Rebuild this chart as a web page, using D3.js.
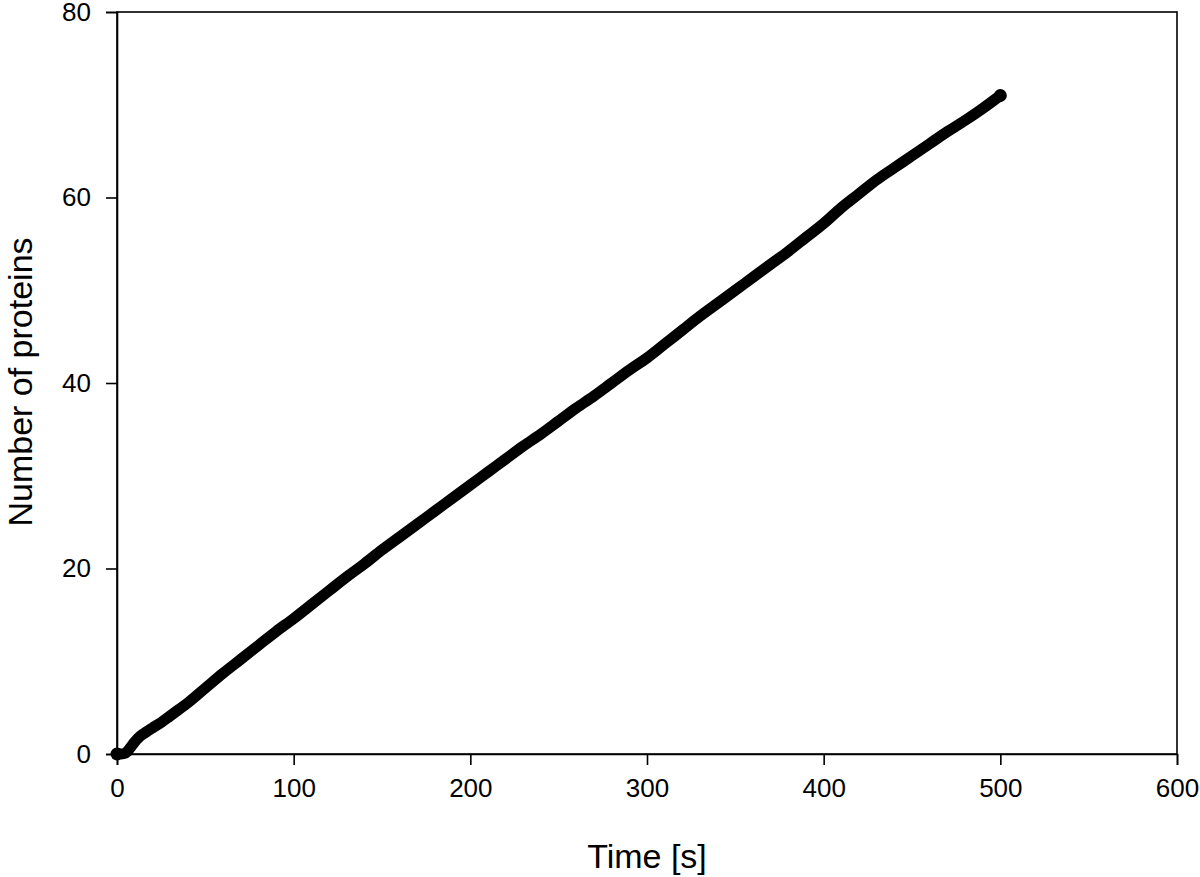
<!DOCTYPE html>
<html>
<head>
<meta charset="utf-8">
<script src="https://cdn.jsdelivr.net/npm/d3@7"></script>
<style>
  html, body { margin: 0; padding: 0; background: #fff; }
  svg { display: block; }
  text { font-family: "Liberation Sans", Arial, sans-serif; fill: #000; }
</style>
</head>
<body>
<svg id="chart" width="1200" height="877"></svg>
<script>
const timeSeconds = [0, 2, 4, 6, 8, 10, 13, 16, 20, 25, 30, 35, 40, 50, 60, 70, 80, 90,
  100, 110, 120, 130, 140, 150, 160, 170, 180, 190, 200, 210, 220, 230, 240, 250,
  260, 270, 280, 290, 300, 310, 320, 330, 340, 350, 360, 370, 380, 390, 400, 410,
  420, 430, 440, 450, 460, 470, 480, 490, 500];
const proteinCount = [0, 0, 0.05, 0.3, 0.8, 1.3, 1.9, 2.3, 2.8, 3.4, 4.1, 4.8, 5.5, 7.1, 8.7, 10.2, 11.7, 13.2,
  14.6, 16.1, 17.6, 19.1, 20.5, 22.0, 23.4, 24.8, 26.2, 27.6, 29.0, 30.4, 31.8, 33.2, 34.5, 35.9,
  37.3, 38.6, 40.0, 41.4, 42.7, 44.2, 45.7, 47.2, 48.6, 50.0, 51.4, 52.8, 54.2, 55.7, 57.2, 58.9,
  60.4, 61.9, 63.2, 64.5, 65.8, 67.1, 68.3, 69.6, 71.0];
const xTicks = [0, 100, 200, 300, 400, 500, 600];
const yTicks = [0, 20, 40, 60, 80];
const xLabel = "Time [s]";
const yLabel = "Number of proteins";

const data = timeSeconds.map((t, i) => ({ t, v: proteinCount[i] }));

const svg = d3.select("#chart");
const plotLeft = 117, plotRight = 1177, plotTop = 12, plotBottom = 754;

const x = d3.scaleLinear().domain([0, 600]).range([plotLeft, plotRight]);
const y = d3.scaleLinear().domain([0, 80]).range([plotBottom, plotTop]);

// frame
svg.append("rect")
  .attr("x", plotLeft).attr("y", plotTop)
  .attr("width", plotRight - plotLeft).attr("height", plotBottom - plotTop)
  .attr("fill", "none").attr("stroke", "#000").attr("stroke-width", 1.6);

const xAxis = svg.append("g")
  .attr("transform", `translate(0,${plotBottom})`)
  .call(d3.axisBottom(x).tickValues(xTicks).tickSize(11).tickPadding(14).tickFormat(d3.format("d")));
const yAxis = svg.append("g")
  .attr("transform", `translate(${plotLeft},0)`)
  .call(d3.axisLeft(y).tickValues(yTicks).tickSize(11).tickPadding(15).tickFormat(d3.format("d")));

[xAxis, yAxis].forEach(g => {
  g.select(".domain").attr("stroke", "#000").attr("stroke-width", 1.6);
  g.selectAll(".tick line").attr("stroke", "#000").attr("stroke-width", 1.6);
  g.selectAll(".tick text")
    .style("font-family", "'Liberation Sans', Arial, sans-serif")
    .style("font-size", "26px").attr("fill", "#000");
});

// data line (dense markers appear as a thick line)
const line = d3.line().x(d => x(d.t)).y(d => y(d.v)).curve(d3.curveMonotoneX);
svg.append("path")
  .datum(data)
  .attr("d", line)
  .attr("fill", "none")
  .attr("stroke", "#000")
  .attr("stroke-width", 11)
  .attr("stroke-linecap", "round")
  .attr("stroke-linejoin", "round");

svg.selectAll("circle.pt")
  .data([data[0], data[data.length - 1]])
  .enter().append("circle")
  .attr("class", "pt")
  .attr("cx", d => x(d.t)).attr("cy", d => y(d.v))
  .attr("r", 6.5).attr("fill", "#000");

// axis titles
svg.append("text")
  .attr("x", 647).attr("y", 868)
  .attr("text-anchor", "middle")
  .style("font-size", "34px")
  .text(xLabel);

svg.append("text")
  .attr("transform", `translate(32,382) rotate(-90)`)
  .attr("text-anchor", "middle")
  .style("font-size", "34px")
  .text(yLabel);
</script>
</body>
</html>
